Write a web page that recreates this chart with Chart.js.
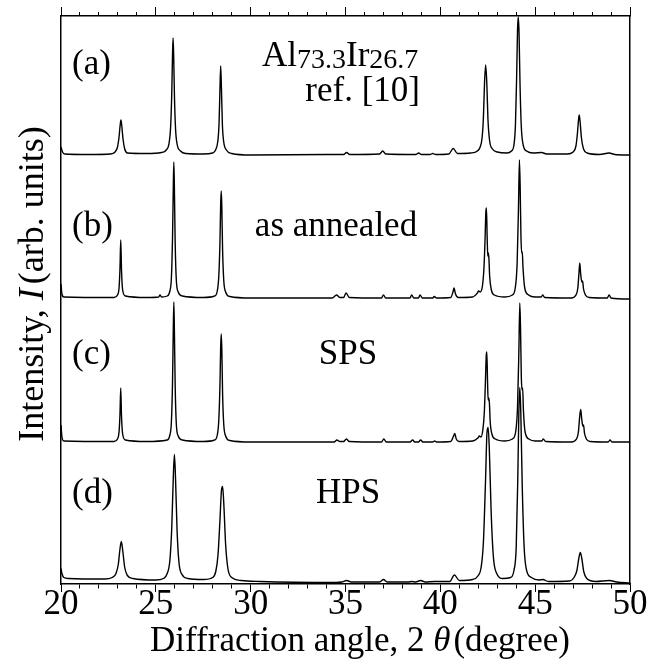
<!DOCTYPE html>
<html>
<head>
<meta charset="utf-8">
<script src="https://cdn.jsdelivr.net/npm/chart.js@4.4.1/dist/chart.umd.min.js"></script>
<style>
  html, body { margin: 0; padding: 0; background: #fff; }
  canvas { display: block; }
</style>
</head>
<body>
<canvas id="xrd" width="655" height="663"></canvas>
<script>
// X-ray diffraction patterns of Al73.3Ir26.7, stacked (a)-(d).
// Each pattern: 2θ (degree) and intensity (arb. units) above its own baseline.

const panelLabels = ['(a)', '(b)', '(c)', '(d)'];
const sampleNames = ['ref. [10]', 'as annealed', 'SPS', 'HPS'];
const baselineOffsets = [429, 286, 142, 1.5];
const xTickLabels = [20, 25, 30, 35, 40, 45, 50];

// (a) reference pattern
const twoThetaA = [20.00,20.08,20.20,21.50,22.60,22.85,22.98,23.06,23.12,23.16,23.20,23.27,23.36,23.50,24.50,25.30,25.55,25.70,25.78,25.84,25.88,25.91,25.94,25.98,26.04,26.12,26.30,26.60,27.50,28.00,28.15,28.27,28.33,28.38,28.42,28.46,28.51,28.58,28.72,29.00,30.00,34.00,34.90,35.06,35.22,36.80,36.96,37.12,38.70,38.86,39.00,39.45,39.60,39.75,40.45,40.68,40.90,41.60,41.95,42.10,42.20,42.27,42.33,42.39,42.45,42.51,42.60,42.75,43.00,43.50,43.75,43.88,43.96,44.02,44.07,44.11,44.15,44.20,44.27,44.37,44.55,44.90,45.34,45.60,46.70,47.00,47.15,47.23,47.28,47.32,47.37,47.44,47.55,47.75,48.40,48.90,49.20,50.00];
const intensityA = [8,3,1,0.5,1,3,8,18,30,35,30,16,6,2,1.5,2.5,5,12,28,62,100,117,100,60,26,11,4,1.5,1,2,5,14,30,65,89,66,30,13,5,1.5,0,0.5,0.5,2.5,0.5,1,4,1,0.5,2,0.5,0.5,1.5,0.5,1,6.5,1.5,2,4,8,17,37,72,90,72,36,14,6,3,2,4,10,30,75,125,138,122,72,28,10,4,2,2.5,1,1,3,9,22,34,40,33,17,6,2,0.5,2,0.5,0];

// (b) as annealed
const twoThetaB = [20.00,20.05,20.15,22.80,22.98,23.06,23.11,23.15,23.19,23.25,23.40,24.50,25.15,25.22,25.30,25.60,25.74,25.82,25.88,25.92,25.95,25.98,26.02,26.08,26.18,26.40,27.50,28.10,28.24,28.32,28.38,28.42,28.45,28.48,28.52,28.58,28.68,28.90,30.00,34.30,34.53,34.70,34.90,35.03,35.20,36.90,37.00,37.12,38.40,38.49,38.60,38.85,38.93,39.05,39.60,39.68,39.80,40.55,40.68,40.72,40.80,40.95,41.70,41.95,42.02,42.10,42.22,42.30,42.36,42.40,42.43,42.47,42.50,42.53,42.56,42.60,42.68,42.85,43.40,43.80,43.95,44.05,44.12,44.17,44.21,44.25,44.29,44.32,44.36,44.45,44.65,45.00,45.32,45.40,45.50,46.90,47.15,47.25,47.31,47.35,47.40,47.46,47.50,47.55,47.65,47.85,48.80,48.90,49.00,50.00];
const intensityB = [14,4,1,0.5,3,10,30,58,28,8,2,0.5,1,3,1,2,7,20,60,110,136,108,55,18,6,2,0.5,2,7,22,55,95,107,90,48,18,6,1.5,0,0,3,0.5,0.5,5,0.5,0,3,0,0,3,0,0,3,0,0,1.5,0,0.5,7,10,4,0.5,1,5,7,6,12,30,60,86,90,60,42,45,40,22,9,3,1,3,10,35,90,138,110,62,45,46,30,10,3,1,1,3,0.5,0,3,10,25,35,24,16,17,9,3,0.5,0,3,0,-1];

// (c) SPS
const twoThetaC = [20.00,20.05,20.15,22.80,22.98,23.06,23.11,23.15,23.19,23.25,23.40,24.50,25.60,25.74,25.82,25.88,25.92,25.95,25.98,26.02,26.08,26.18,26.40,27.50,28.10,28.24,28.32,28.38,28.42,28.45,28.48,28.52,28.58,28.68,28.90,30.00,34.40,34.55,34.70,34.90,35.05,35.20,36.90,37.02,37.15,38.40,38.54,38.65,38.85,38.96,39.08,39.60,39.70,39.80,40.55,40.70,40.76,40.84,40.98,41.70,41.98,42.06,42.14,42.24,42.32,42.38,42.42,42.45,42.49,42.52,42.56,42.59,42.63,42.72,42.90,43.40,43.80,43.97,44.07,44.14,44.19,44.23,44.27,44.31,44.34,44.38,44.47,44.67,45.00,45.35,45.43,45.55,46.90,47.18,47.28,47.34,47.40,47.45,47.51,47.55,47.60,47.70,47.90,48.85,48.95,49.05,50.00];
const intensityC = [17,5,1,0.5,3,10,28,54,26,8,2,0.5,2,7,20,60,112,140,110,56,18,6,2,0.5,2,7,22,56,96,108,92,48,18,6,1.5,0,0,2,0.5,0.5,3,0.5,0,3,0,0,2,0,0,2,0,0,1,0,0.5,6,8.5,3,0.5,1,4,6,5,12,30,62,86,90,60,42,44,38,20,8,3,1,3,10,35,90,139,112,65,52,54,32,10,3,1,1,3,0.5,0,3,10,24,32.5,24,16,17,9,3,0.5,0,2,0,0];

// (d) HPS
const twoThetaD = [20.00,20.05,20.15,20.40,22.30,22.70,22.90,23.02,23.10,23.18,23.26,23.36,23.50,23.80,25.00,25.40,25.60,25.74,25.84,25.92,25.98,26.04,26.12,26.22,26.38,26.70,27.50,28.00,28.16,28.28,28.38,28.46,28.52,28.58,28.68,28.80,29.00,29.50,30.50,34.50,34.80,35.06,35.30,36.80,37.00,37.20,38.30,38.49,38.70,38.96,39.20,39.70,40.50,40.74,41.00,41.70,42.00,42.15,42.27,42.38,42.46,42.52,42.58,42.68,42.80,42.95,43.30,43.70,43.88,44.00,44.08,44.14,44.19,44.24,44.32,44.42,44.55,44.80,45.20,45.40,45.70,46.80,47.05,47.20,47.30,47.38,47.46,47.56,47.72,48.20,48.90,49.30,50.00];
const intensityD = [14,9,5,4,3.5,5,9,18,32,41,31,15,7,4,2.5,4,9,22,55,105,128,103,52,20,8,4,3,5,11,28,62,92,96,80,38,14,5,2,1,0,0.5,2,0.5,0.5,3,0.5,0.5,1,0.5,2,0.5,1,1,7.5,2,3,7,15,40,100,150,155,135,70,25,10,4,5,12,35,100,170,195,172,95,35,12,5,2.5,3,1,1.5,5,12,24,30,24,11,4,1,2,0.5,-0.5];

const patterns = [
  [twoThetaA, intensityA],
  [twoThetaB, intensityB],
  [twoThetaC, intensityC],
  [twoThetaD, intensityD]
];

const SERIF = 'Liberation Serif';
Chart.defaults.font.family = SERIF;
Chart.defaults.color = '#000';

const datasets = patterns.map(([tt, inten], i) => ({
  label: panelLabels[i],
  data: tt.map((t, k) => ({ x: t, y: inten[k] + baselineOffsets[i] })),
  borderColor: '#000',
  borderWidth: 1.4,
  pointRadius: 0,
  fill: false,
  cubicInterpolationMode: 'monotone'
}));

// draws a run of text pieces with mixed styles, starting at x
function drawRuns(ctx, runs, x, y) {
  for (const r of runs) {
    ctx.font = r.font;
    ctx.fillText(r.text, x, y + (r.dy || 0));
    x += ctx.measureText(r.text).width + (r.gap || 0);
  }
}
function runsWidth(ctx, runs) {
  let w = 0;
  for (const r of runs) {
    ctx.font = r.font;
    w += ctx.measureText(r.text).width + (r.gap || 0);
  }
  return w;
}

const labelsPlugin = {
  id: 'xrdLabels',
  afterDraw(chart) {
    const ctx = chart.ctx;
    ctx.save();
    ctx.fillStyle = '#000';
    ctx.textBaseline = 'alphabetic';
    ctx.textAlign = 'left';
    const f = '35px ' + SERIF;

    // panel letters
    const letterY = [74, 236, 364, 503];
    panelLabels.forEach((t, i) => {
      ctx.font = f;
      ctx.fillText(t, 72, letterY[i]);
    });

    // composition of the reference sample
    drawRuns(ctx, [
      { text: 'Al', font: f },
      { text: '73.3', font: '28px ' + SERIF, dy: 2 },
      { text: 'Ir', font: f },
      { text: '26.7', font: '28px ' + SERIF, dy: 2 }
    ], 262, 66);
    ctx.font = f;
    ctx.textAlign = 'right';
    ctx.fillText(sampleNames[0], 420, 101);

    // sample conditions
    ctx.textAlign = 'center';
    ctx.fillText(sampleNames[1], 336, 236);
    ctx.fillText(sampleNames[2], 348, 364);
    ctx.fillText(sampleNames[3], 348, 503);
    ctx.textAlign = 'left';

    // x axis title
    const xRuns = [
      { text: 'Diffraction angle, 2 ', font: f },
      { text: 'θ', font: 'italic 35px ' + SERIF, gap: 3 },
      { text: '(degree)', font: f }
    ];
    const xw = runsWidth(ctx, xRuns);
    drawRuns(ctx, xRuns, 360 - xw / 2, 651);

    // y axis title, rotated
    const yRuns = [
      { text: 'Intensity, ', font: '36px ' + SERIF },
      { text: 'I', font: 'italic 36px ' + SERIF, gap: 4 },
      { text: '(arb. units)', font: '36px ' + SERIF }
    ];
    const yw = runsWidth(ctx, yRuns);
    ctx.translate(43, 284);
    ctx.rotate(-Math.PI / 2);
    drawRuns(ctx, yRuns, -yw / 2, 0);
    ctx.restore();
  }
};

const minorDashBottom = c => (c.tick && c.tick.value % 5 === 0) ? [] : [4, 100];
const minorDashTop = c => (c.tick && c.tick.value % 5 === 0) ? [] : [0, 5, 4, 100];

new Chart(document.getElementById('xrd'), {
  type: 'line',
  data: { datasets },
  options: {
    responsive: false,
    devicePixelRatio: 1,
    animation: false,
    layout: { padding: 0 },
    plugins: { legend: { display: false }, tooltip: { enabled: false } },
    scales: {
      x: {
        type: 'linear',
        position: 'bottom',
        min: xTickLabels[0],
        max: xTickLabels[xTickLabels.length - 1],
        ticks: {
          stepSize: 1,
          autoSkip: false,
          maxRotation: 0,
          color: '#000',
          padding: -5,
          font: { family: SERIF, size: 35, lineHeight: 1 },
          callback: v => xTickLabels.includes(v) ? String(v) : ''
        },
        grid: {
          display: true,
          drawOnChartArea: false,
          drawTicks: true,
          tickLength: 8,
          tickWidth: 1,
          tickColor: '#000',
          tickBorderDash: minorDashBottom
        },
        border: { display: true, color: '#000', width: 1.5 },
        afterFit: s => { s.height = 663 - 584; }
      },
      xTop: {
        type: 'linear',
        position: 'top',
        min: 20,
        max: 50,
        ticks: { display: false, stepSize: 1, autoSkip: false },
        grid: {
          display: true,
          drawOnChartArea: false,
          drawTicks: true,
          tickLength: 9,
          tickWidth: 1,
          tickColor: '#000',
          tickBorderDash: minorDashTop
        },
        border: { display: true, color: '#000', width: 1.5 },
        afterFit: s => { s.height = 16; }
      },
      y: {
        type: 'linear',
        position: 'left',
        min: 0,
        max: 568,
        ticks: { display: false },
        grid: { display: false },
        border: { display: true, color: '#000', width: 1.5 },
        afterFit: s => { s.width = 61; }
      },
      yRight: {
        type: 'linear',
        position: 'right',
        display: true,
        min: 0,
        max: 568,
        ticks: { display: false },
        grid: { display: false },
        border: { display: true, color: '#000', width: 1.5 },
        afterFit: s => { s.width = 655 - 630; }
      }
    }
  },
  plugins: [labelsPlugin]
});
</script>
</body>
</html>
